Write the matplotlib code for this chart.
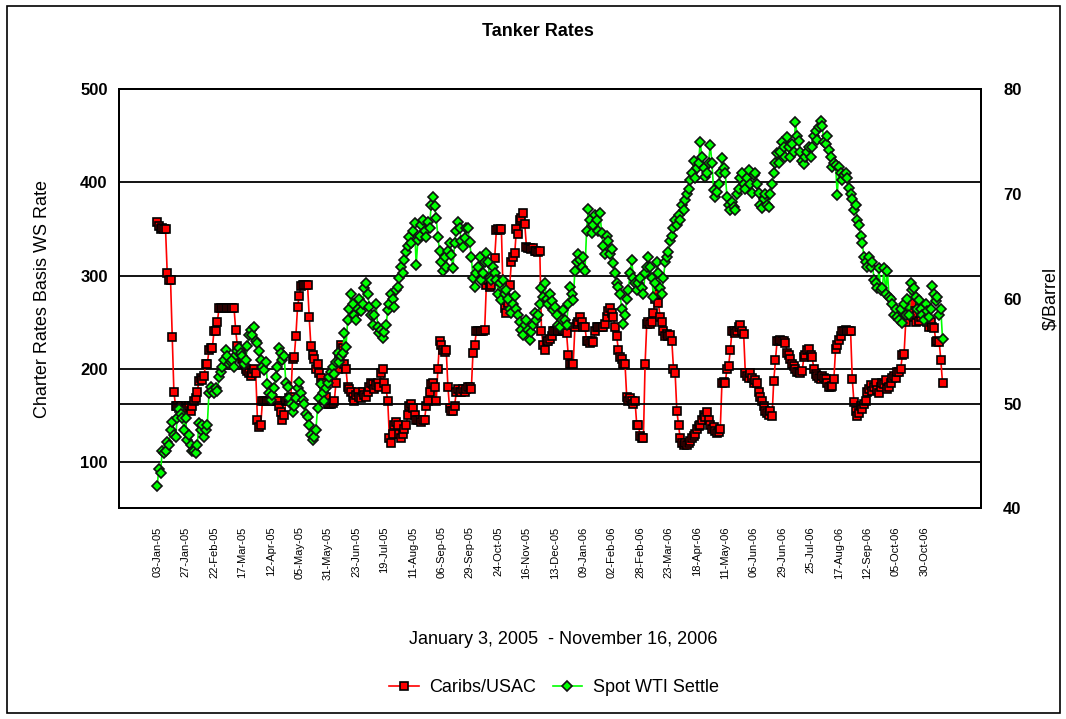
import matplotlib
matplotlib.use("Agg")
import matplotlib.pyplot as plt
import numpy as np
from matplotlib.patches import Rectangle

plt.rcParams['font.family'] = ['Liberation Sans', 'DejaVu Sans']

# Caribs/USAC charter rates (WS), one value per trading day, Jan 3 2005 - Nov 16 2006
caribs_usac = [
    357, 353, 350, 351, 350, 350,
    303, 295, 295, 234, 175, 160,
    160, 158, 160, 157, 155, 160,
    158, 160, 155, 160, 165, 168,
    175, 187, 190, 188, 192, 205,
    205, 220, 222, 222, 240, 240,
    250, 265, 265, 265, 265, 265,
    265, 265, 265, 265, 265, 241,
    224, 215, 220, 210, 205, 200,
    198, 195, 192, 195, 200, 195,
    145, 137, 140, 165, 165, 165,
    165, 165, 165, 168, 165, 165,
    165, 160, 153, 145, 150, 165,
    165, 168, 170, 210, 212, 235,
    266, 278, 289, 290, 290, 290,
    290, 255, 224, 215, 210, 200,
    205, 195, 190, 185, 180, 170,
    162, 162, 162, 163, 165, 185,
    200, 215, 225, 222, 205, 200,
    180, 178, 175, 170, 165, 172,
    175, 170, 168, 175, 172, 170,
    175, 180, 185, 183, 178, 182,
    185, 180, 195, 200, 185, 178,
    165, 125, 120, 130, 140, 143,
    140, 130, 125, 130, 135, 140,
    150, 160, 162, 158, 150, 145,
    145, 145, 143, 145, 145, 160,
    165, 175, 183, 185, 180, 165,
    200, 230, 225, 220, 218, 220,
    180, 158, 155, 155, 160, 175,
    178, 175, 175, 178, 175, 178,
    180, 180, 178, 217, 225, 240,
    240, 240, 240, 240, 242, 290,
    295, 288, 290, 300, 319, 349,
    350, 349, 350, 281, 265, 260,
    270, 290, 315, 320, 324, 350,
    345, 360, 362, 367, 355, 331,
    330, 330, 328, 330, 326, 326,
    325, 326, 240, 225, 220, 230,
    230, 232, 235, 240, 240, 242,
    240, 240, 240, 241, 240, 238,
    215, 205, 205, 205, 245, 248,
    250, 255, 250, 245, 245, 230,
    230, 228, 230, 229, 240, 245,
    245, 245, 245, 245, 248, 255,
    262, 265, 260, 255, 245, 235,
    220, 213, 210, 205, 205, 170,
    165, 168, 165, 162, 165, 140,
    140, 128, 125, 125, 205, 248,
    250, 248, 250, 260, 275, 280,
    270, 255, 250, 240, 235, 237,
    235, 236, 230, 200, 195, 155,
    140, 125, 120, 118, 120, 118,
    120, 122, 125, 128, 130, 135,
    138, 140, 145, 150, 148, 153,
    145, 140, 135, 137, 133, 131,
    132, 135, 185, 186, 185, 200,
    203, 220, 240, 240, 238, 240,
    245, 247, 240, 237, 195, 192,
    190, 195, 190, 185, 188, 185,
    175, 170, 165, 160, 155, 152,
    150, 155, 149, 187, 209, 230,
    230, 231, 230, 230, 228, 217,
    215, 210, 205, 203, 200, 196,
    196, 195, 197, 212, 215, 220,
    221, 215, 212, 200, 194, 192,
    190, 189, 192, 190, 189, 185,
    180, 180, 181, 189, 221, 225,
    231, 235, 240, 240, 241, 240,
    240, 240, 189, 164, 155, 149,
    152, 160, 157, 162, 165, 175,
    178, 182, 176, 180, 185, 177,
    174, 180, 185, 183, 188, 178,
    180, 185, 190, 192, 190, 196,
    196, 200, 215, 216, 250, 258,
    265, 260, 270, 255, 250, 258,
    251, 255, 260, 262, 255, 250,
    245, 250, 245, 244, 229, 230,
    229, 209, 185,
]

# Spot WTI settle ($/barrel), same trading days
spot_wti = [
    42.1, 43.8, 43.4, 45.5, 45.3, 45.5,
    46.3, 46.0, 47.5, 48.2, 47.0, 46.8,
    48.6, 49.5, 49.0, 48.6, 47.5, 48.6,
    46.5, 47.0, 46.0, 45.5, 45.5, 45.3,
    46.0, 48.1, 47.5, 48.0, 46.8, 47.5,
    48.0, 51.0, 51.6, 51.2, 51.0, 51.5,
    51.2, 52.5, 53.0, 53.5, 54.2, 55.1,
    54.5, 53.8, 54.0, 54.2, 53.5, 54.6,
    55.0, 55.3, 54.8, 54.5, 53.8, 54.2,
    55.5, 56.5, 57.0, 56.5, 57.3, 56.0,
    55.8, 55.0, 54.2, 53.5, 53.2, 54.0,
    51.9, 51.0, 50.3, 50.8, 51.5, 52.5,
    53.5, 55.3, 54.8, 54.2, 54.5, 52.0,
    51.6, 50.5, 50.0, 49.2, 49.8, 50.5,
    51.5, 52.1, 51.0, 50.3, 50.0, 49.0,
    48.7, 48.0, 47.0, 46.5, 46.8, 47.5,
    49.6, 50.5, 51.9, 51.0, 50.2, 51.5,
    52.0, 52.5, 53.0, 53.5, 52.8, 54.0,
    54.8, 54.0, 54.5, 54.8, 56.7, 55.4,
    58.0, 59.0, 60.5, 59.5, 58.5, 58.0,
    59.0, 60.0, 58.8, 59.5, 61.0, 61.5,
    60.5, 59.2, 58.5, 57.5, 58.5, 59.5,
    57.3, 56.7, 57.0, 56.3, 56.8, 57.5,
    58.9, 59.5, 60.5, 60.0, 59.2, 60.8,
    61.1, 62.0, 63.0, 62.5, 63.7, 64.5,
    65.0, 65.9, 65.3, 66.5, 67.2, 63.2,
    65.6, 66.0, 67.0, 67.5, 66.5, 65.9,
    67.3, 66.8, 69.0, 69.7, 68.9, 67.7,
    65.9, 64.6, 63.5, 62.7, 64.0, 63.0,
    64.6, 65.3, 64.2, 62.9, 65.3, 66.5,
    67.3, 66.8, 65.5, 64.9, 65.8, 66.8,
    66.8, 65.4, 64.0, 62.0, 61.1, 62.5,
    63.0, 64.0, 61.8, 62.5, 63.5, 64.4,
    63.5, 62.0, 61.8, 63.0, 62.5, 61.8,
    60.5, 61.5, 59.9, 61.8, 60.5, 60.8,
    60.0, 59.0, 58.6, 59.5, 60.3, 59.0,
    58.5, 57.8, 57.0, 56.5, 57.5, 58.0,
    57.0, 56.1, 56.8, 57.5, 58.6, 58.0,
    58.5, 59.5, 61.0, 60.2, 61.5, 60.0,
    59.5, 60.5, 59.8, 58.9, 59.2, 58.5,
    57.5, 57.3, 58.0, 58.9, 58.0, 57.5,
    59.5, 61.1, 60.5, 59.9, 62.7, 63.5,
    64.3, 63.7, 63.0, 64.0, 62.7, 66.5,
    68.6, 67.5, 66.3, 67.0, 68.0, 67.5,
    66.5, 68.2, 66.3, 65.0, 64.3, 66.0,
    65.5, 64.3, 64.8, 63.4, 62.5, 61.5,
    61.1, 60.5, 59.0, 57.6, 58.5, 60.0,
    60.8, 62.5, 63.7, 62.0, 61.5, 60.8,
    61.5, 62.0, 61.0, 60.5, 62.5, 63.0,
    64.0, 63.0, 62.0, 60.2, 61.5, 63.5,
    62.5, 61.0, 60.5, 62.0, 63.5, 64.0,
    64.5, 65.5, 66.0, 66.8, 67.5, 67.0,
    68.0, 67.5, 69.0, 68.5, 69.4, 70.0,
    70.5, 71.3, 72.0, 73.2, 71.5, 72.5,
    73.0, 75.0, 73.5, 72.5, 71.6, 72.0,
    73.0, 74.7, 73.0, 70.4, 69.7, 70.2,
    71.0, 72.0, 73.4, 72.5, 72.0, 69.7,
    69.0, 68.5, 69.2, 68.8, 68.5, 70.0,
    70.5, 71.5, 72.0, 71.0, 70.5, 71.5,
    72.3, 71.0, 70.1, 71.8, 72.0, 71.0,
    70.1, 69.0, 68.7, 69.5, 70.0, 69.0,
    68.8, 70.0, 71.0, 72.0, 73.0, 73.9,
    73.0, 74.0, 75.0, 74.5, 73.5, 75.4,
    74.5, 73.5, 74.8, 74.0, 76.9, 75.5,
    75.1, 74.0, 73.2, 72.9, 73.5, 74.0,
    74.5, 73.5, 74.5, 75.5, 76.0, 75.2,
    76.4, 77.0, 76.5, 75.0, 74.8, 75.5,
    74.2, 73.5, 72.6, 73.0, 72.8, 69.9,
    72.6, 72.0, 71.3, 71.8, 72.0, 71.5,
    70.6, 70.0, 69.5, 68.5, 69.0, 67.5,
    67.0, 66.0, 65.3, 64.0, 63.5, 63.0,
    64.0, 63.0, 63.5, 61.8, 61.5, 61.0,
    62.9, 60.8, 61.0, 62.9, 60.5, 62.7,
    60.2, 60.0, 59.5, 58.5, 59.0, 58.3,
    58.0, 59.0, 57.7, 59.5, 58.5, 60.0,
    58.5, 61.5, 60.8, 61.0, 60.2, 59.0,
    59.9, 59.0, 58.5, 58.0, 59.5, 58.8,
    58.3, 59.0, 61.2, 60.5, 59.8, 60.2,
    58.5, 59.0, 56.2,
]

# category labels shown every 17 trading days
date_labels = ['03-Jan-05', '27-Jan-05', '22-Feb-05', '17-Mar-05', '12-Apr-05',
               '05-May-05', '31-May-05', '23-Jun-05', '19-Jul-05', '11-Aug-05',
               '06-Sep-05', '29-Sep-05', '24-Oct-05', '16-Nov-05', '13-Dec-05',
               '09-Jan-06', '02-Feb-06', '28-Feb-06', '23-Mar-06', '18-Apr-06',
               '11-May-06', '06-Jun-06', '29-Jun-06', '25-Jul-06', '17-Aug-06',
               '12-Sep-06', '05-Oct-06', '30-Oct-06']
label_step = 17

x = np.arange(len(caribs_usac))

fig = plt.figure(figsize=(10.66, 7.19), dpi=100)
ax = fig.add_axes([0.1114, 0.2930, 0.8088, 0.5828])
ax2 = ax.twinx()

# horizontal grid lines
for v in [100, 200, 300, 400]:
    ax.axhline(v, color='black', lw=1.3, zorder=1)
ax2.axhline(50, color='black', lw=1.3, zorder=1)

l1, = ax.plot(x, caribs_usac, color='#ff0000', lw=1.2, marker='s', ms=5.5,
              mfc='#ff0000', mec='black', mew=1.2, zorder=3, label='Caribs/USAC')
l2, = ax2.plot(x, spot_wti, color='#00ff00', lw=1.2, marker='D', ms=4.8,
               mfc='#00ff00', mec='#111111', mew=1.2, zorder=3, label='Spot WTI Settle')

ax.set_xlim(-23, 493)
ax.set_ylim(50, 500)
ax2.set_ylim(40, 80)
ax.set_yticks([100, 200, 300, 400, 500])
ax2.set_yticks([40, 50, 60, 70, 80])

ax.set_xticks(np.arange(len(date_labels)) * label_step)
ax.set_xticklabels(date_labels, rotation=90, fontsize=8)
ax.tick_params(axis='x', length=0, pad=13)
ax.tick_params(axis='y', length=0, pad=8, labelsize=12)
ax2.tick_params(axis='y', length=0, pad=16, labelsize=12)
for lab in ax.get_yticklabels() + ax2.get_yticklabels():
    lab.set_fontweight('bold')

for a in (ax, ax2):
    for s in a.spines.values():
        s.set_linewidth(1.4)
        s.set_color('black')

# axis titles
ax.set_ylabel('Charter Rates Basis WS Rate', fontsize=13)
ax.yaxis.set_label_coords(-0.0785, 0.5)
ax2.set_ylabel('$/Barrel', fontsize=13)
ax2.yaxis.set_label_coords(1.0715, 0.5)

fig.text(538 / 1066, 1 - 31 / 719, 'Tanker Rates', ha='center', va='center',
         fontsize=13, fontweight='bold')
fig.text(563 / 1066, 1 - 640 / 719, 'January 3, 2005  - November 16, 2006',
         ha='center', va='center', fontsize=13)

fig.legend(handles=[l1, l2], loc='center', bbox_to_anchor=(554 / 1066, 1 - 688 / 719),
           ncol=2, frameon=False, fontsize=13, handlelength=1.65,
           columnspacing=0.9, handletextpad=0.6)

# outer chart border
fig.patches.append(Rectangle((7 / 1066, 1 - 713 / 719), 1053 / 1066, 707 / 719,
                             transform=fig.transFigure, fill=False,
                             edgecolor='black', lw=1.2))

fig.savefig('out.png', dpi=100)
